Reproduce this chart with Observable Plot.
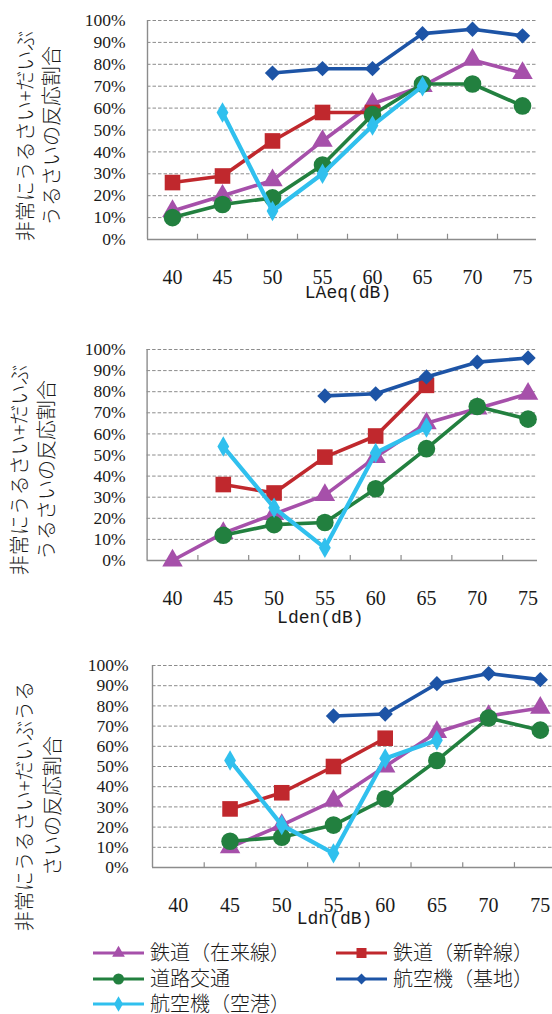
<!DOCTYPE html>
<html>
<head>
<meta charset="utf-8">
<script src="https://cdn.jsdelivr.net/npm/d3@7"></script>
<script src="https://cdn.jsdelivr.net/npm/@observablehq/plot@0.6"></script>
<style>
  body { margin: 0; background: #fff; }
  #wrap { position: relative; width: 552px; height: 1014px; overflow: hidden; background: #fff; }
  .panel { position: absolute; left: 0; }
  .panel svg { overflow: visible; }
  .serif-text { font-family: "Liberation Serif", "DejaVu Serif", serif !important; }
  .mono-text { font-family: "Liberation Mono", "DejaVu Sans Mono", monospace !important; }
  .jp-text { font-family: "Noto Sans CJK JP", sans-serif !important; font-weight: 300; }
</style>
</head>
<body>
<div id="wrap"></div>
<script>
// Noise level classes (dB) shared by all three panels
const levels = [40, 45, 50, 55, 60, 65, 70, 75];
const percentTicks = [0, 10, 20, 30, 40, 50, 60, 70, 80, 90, 100];

// Series (legend order)
const seriesNames = ["鉄道（在来線）", "鉄道（新幹線）", "道路交通", "航空機（基地）", "航空機（空港）"];
const seriesColors = ["#a650aa", "#c0282d", "#22803f", "#1d54a6", "#30c0ee"];
const seriesSymbols = ["triangle", "square", "circle", "diamond2", "diamond"];

// Share of "very + fairly annoyed" responses (%), by LAeq
const laeqZairai     = [13, 20, 27, 45, 62, 70, 82, 76];
const laeqShinkansen = [26, 29, 45, 58, 58, null, null, null];
const laeqRoad       = [10, 16, 19, 34, 57, 71, 71, 61];
const laeqBase       = [null, null, 76, 78, 78, 94, 96, 93];
const laeqAirport    = [null, 58, 13, 30, 52, 70, null, null];

// by Lden
const ldenZairai     = [0, 13, 22, 31, 49, 65, 72, 79];
const ldenShinkansen = [null, 36, 32, 49, 59, 83, null, null];
const ldenRoad       = [null, 12, 17, 18, 34, 53, 73, 67];
const ldenBase       = [null, null, null, 78, 79, 87, 94, 96];
const ldenAirport    = [null, 54, 25, 6, 51, 63, null, null];

// by Ldn
const ldnZairai      = [null, 10, 21, 33, 50, 67, 75, 79];
const ldnShinkansen  = [null, 29, 37, 50, 64, null, null, null];
const ldnRoad        = [null, 13, 15, 21, 34, 53, 74, 68];
const ldnBase        = [null, null, null, 75, 76, 91, 96, 93];
const ldnAirport     = [null, 53, 21, 7, 54, 63, null, null];

const yTitle1 = ["非常にうるさい+だいぶ", "うるさいの反応割合"];
const yTitle3 = ["非常にうるさい+だいぶうる", "さいの反応割合"];

// marker sizes (Plot r) per symbol
const symbolR = [7.6, 8.8, 8.8, 6.9, 6.2];

const gridColor = "#8c8c8c";
const textColor = "#1a1a1a";

function panel(cfg) {
  const series = cfg.series.map(vals =>
    vals.map((v, i) => ({level: levels[i], value: v})).filter(d => d.value != null));
  const boundaries = levels.slice(0, -1).map(l => l + 2.5);
  const marks = [
    Plot.ruleY(percentTicks.filter(t => t > 0), {x1: 37.5, x2: cfg.xMax, stroke: gridColor, strokeWidth: 1, strokeDasharray: "3.5,2"}),
    Plot.ruleY([0], {x1: 37.5, x2: cfg.xMax, stroke: gridColor, strokeWidth: 1.4}),
    Plot.ruleX([37.5], {y1: 0, y2: 100, stroke: gridColor, strokeWidth: 1.4}),
    Plot.ruleX(boundaries, {y1: 0, y2: 2.4, stroke: gridColor, strokeWidth: 1.2}),
    Plot.axisY({ticks: percentTicks, tickSize: 0, tickPadding: cfg.yPad, tickFormat: d => d + "%",
      fontSize: 17.5, fill: textColor, label: null}),
    Plot.axisX({ticks: levels, tickSize: 0, tickPadding: 30, tickFormat: d => String(d),
      fontSize: 20, fill: textColor, label: null})
  ];
  series.forEach((data, s) => {
    marks.push(Plot.line(data, {x: "level", y: "value", stroke: seriesColors[s],
      strokeWidth: s === 4 ? 4.2 : 3.6, strokeLinejoin: "miter", strokeLinecap: "butt"}));
    marks.push(Plot.dot(data, {x: "level", y: "value", symbol: seriesSymbols[s], r: symbolR[s],
      fill: seriesColors[s], stroke: "none"}));
  });
  marks.push(Plot.text([cfg.xTitle], {text: d => d, frameAnchor: "bottom",
    dx: cfg.xTitleDx, dy: cfg.xTitleDy, fontSize: 18, fill: textColor}));

  const chart = Plot.plot({
    width: 552,
    height: cfg.height,
    marginTop: cfg.mt,
    marginBottom: cfg.mb,
    marginLeft: cfg.ml,
    marginRight: cfg.mr,
    x: {type: "linear", domain: [37.5, cfg.xMax]},
    y: {domain: [0, 100]},
    style: {background: "transparent", overflow: "visible"},
    marks
  });

  // fonts: serif tick labels, mono axis title
  const svg = d3.select(chart.tagName === "svg" ? chart : chart.querySelector("svg"));
  svg.selectAll("[aria-label='x-axis tick label'] text, [aria-label='y-axis tick label'] text")
    .attr("class", "serif-text");
  svg.selectAll("[aria-label='text'] text").attr("class", "mono-text");

  // rotated two-line y-axis title
  const t = svg.append("text")
    .attr("class", "jp-text")
    .attr("transform", `translate(${cfg.yTitleX},${cfg.yTitleY}) rotate(-90)`)
    .attr("text-anchor", "middle")
    .attr("font-size", 20)
    .attr("fill", textColor);
  cfg.yTitle.forEach((line, i) => {
    t.append("tspan").attr("x", 0)
      .attr("y", (i - (cfg.yTitle.length - 1) / 2) * cfg.yTitleGap)
      .attr("dy", "0.36em").text(line);
  });

  const div = document.createElement("div");
  div.className = "panel";
  div.style.top = cfg.top + "px";
  div.appendChild(chart);
  document.getElementById("wrap").appendChild(div);
}

panel({top: 0, height: 320, mt: 20, mb: 81, ml: 147, mr: 16, xMax: 76.4, yPad: 22,
  series: [laeqZairai, laeqShinkansen, laeqRoad, laeqBase, laeqAirport],
  yTitle: yTitle1, yTitleX: 39, yTitleY: 136, yTitleGap: 26,
  xTitle: "LAeq(dB)", xTitleDx: 6, xTitleDy: 58});

panel({top: 320, height: 320, mt: 29, mb: 80, ml: 146.6, mr: 15, xMax: 75.93, yPad: 21.6,
  series: [ldenZairai, ldenShinkansen, ldenRoad, ldenBase, ldenAirport],
  yTitle: yTitle1, yTitleX: 33, yTitleY: 150, yTitleGap: 27,
  xTitle: "Lden(dB)", xTitleDx: -22, xTitleDy: 62});

panel({top: 640, height: 300, mt: 25, mb: 73, ml: 152, mr: 0, xMax: 76.18, yPad: 24,
  series: [ldnZairai, ldnShinkansen, ldnRoad, ldnBase, ldnAirport],
  yTitle: yTitle3, yTitleX: 39, yTitleY: 166, yTitleGap: 28,
  xTitle: "Ldn(dB)", xTitleDx: -18, xTitleDy: 56});

// Legend: two columns, three rows, line + marker swatch then label
(function legend() {
  const svg = d3.create("svg").attr("width", 552).attr("height", 80)
    .style("position", "absolute").style("left", "0px").style("top", "938px");
  const colX = [93, 336], rowY = [15, 41, 66], lineLen = 51;
  const legendSize = [70, 100, 95, 75, 70];
  seriesNames.forEach((name, i) => {
    const x = colX[i % 2], y = rowY[Math.floor(i / 2)];
    const g = svg.append("g").attr("transform", `translate(${x},${y})`);
    g.append("line").attr("x1", 0).attr("x2", lineLen).attr("y1", 0).attr("y2", 0)
      .attr("stroke", seriesColors[i]).attr("stroke-width", 3);
    const sym = {triangle: d3.symbolTriangle, square: d3.symbolSquare, circle: d3.symbolCircle,
      diamond2: d3.symbolDiamond2, diamond: d3.symbolDiamond}[seriesSymbols[i]];
    g.append("path").attr("transform", `translate(${lineLen / 2},0)`)
      .attr("d", d3.symbol(sym, legendSize[i])()).attr("fill", seriesColors[i]);
    g.append("text").attr("class", "jp-text").attr("x", lineLen + 6).attr("y", 0).attr("dy", "0.36em")
      .attr("font-size", 20).attr("fill", textColor)
      .text(name);
  });
  document.getElementById("wrap").appendChild(svg.node());
})();
</script>
</body>
</html>
